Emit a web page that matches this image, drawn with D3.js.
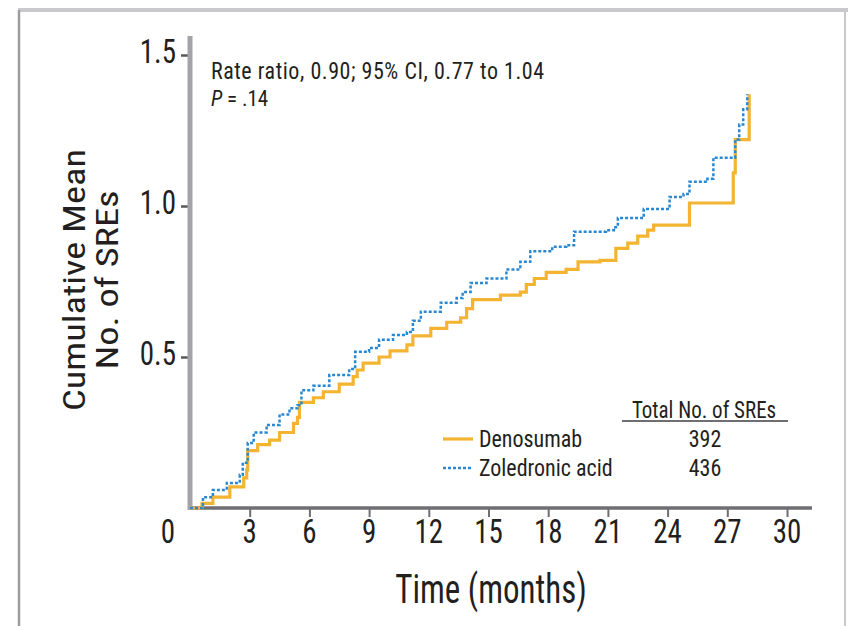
<!DOCTYPE html>
<html>
<head>
<meta charset="utf-8">
<script src="https://cdn.jsdelivr.net/npm/d3@7"></script>
<style>
  body { margin: 0; background: #fff; }
  svg text { font-family: "Liberation Sans Narrow", "Arial Narrow", "Roboto Condensed", sans-serif; fill: #231f20; }
</style>
</head>
<body>
<div id="chart"></div>
<script>
var width = 848,
	height = 626;

// data (months, cumulative mean)
var denoTime = [0, 0.6, 1.15, 2.0, 2.7, 2.85, 2.9, 3.4, 4.0, 4.5, 5.2, 5.4, 5.5, 6.2, 6.7, 7.5, 8.2, 8.4, 8.7, 9.5, 10.05, 10.9, 11.2, 12.1, 12.9, 13.6, 13.9, 14.2, 15.6, 16.6, 16.9, 17.3, 17.9, 18.9, 19.5, 20.6, 21.4, 22.0, 22.5, 23.0, 23.3, 25.1, 27.3, 27.4, 28.1];
var denoValue = [0, 0.015, 0.036, 0.07, 0.1, 0.126, 0.19, 0.21, 0.225, 0.25, 0.28, 0.30, 0.35, 0.365, 0.385, 0.41, 0.435, 0.457, 0.48, 0.50, 0.52, 0.54, 0.57, 0.595, 0.615, 0.63, 0.66, 0.69, 0.705, 0.715, 0.74, 0.76, 0.78, 0.79, 0.815, 0.82, 0.86, 0.877, 0.90, 0.92, 0.937, 1.01, 1.11, 1.22, 1.37];

var zolTime = [0, 0.65, 1.15, 1.85, 2.5, 2.65, 2.9, 3.2, 3.85, 4.5, 5.0, 5.4, 5.6, 6.2, 7.0, 8.0, 8.3, 9.0, 9.5, 10.2, 10.9, 11.2, 11.6, 12.6, 13.4, 13.7, 14.1, 14.9, 15.9, 16.6, 17.1, 18.2, 18.9, 19.3, 20.9, 21.3, 21.5, 22.8, 24.1, 24.8, 25.1, 26.0, 26.3, 27.2, 27.4, 27.6, 27.8, 28.0];
var zolValue = [0, 0.036, 0.06, 0.083, 0.11, 0.15, 0.215, 0.25, 0.275, 0.31, 0.33, 0.34, 0.39, 0.405, 0.44, 0.46, 0.517, 0.53, 0.557, 0.573, 0.583, 0.62, 0.65, 0.68, 0.695, 0.715, 0.745, 0.76, 0.79, 0.815, 0.85, 0.865, 0.87, 0.915, 0.92, 0.93, 0.96, 0.99, 1.03, 1.04, 1.08, 1.09, 1.16, 1.16, 1.22, 1.27, 1.32, 1.37];

var xTicks = [0, 3, 6, 9, 12, 15, 18, 21, 24, 27, 30];
var yTicks = [0.5, 1.0, 1.5];
var seriesNames = ["Denosumab", "Zoledronic acid"];
var seriesTotals = [392, 436];
var seriesColors = ["#f3b431", "#2a88d2"];

var svg = d3.select("#chart")
	.append("svg")
	.attr("width", width)
	.attr("height", height);

// the source figure is stretched up and down, so text is drawn tall
function tallText(parent, x, y, size, sy, anchor) {
	return parent.append("g")
		.attr("transform", "translate(" + x + "," + y + ") scale(1," + sy + ")")
		.append("text")
		.attr("text-anchor", anchor || "start")
		.style("font-size", size + "px");
}

// frame round the figure
svg.append("line").attr("x1", 18).attr("x2", 848).attr("y1", 10).attr("y2", 10)
	.attr("stroke", "#c9c9cb").attr("stroke-width", 4);
svg.append("line").attr("x1", 19).attr("x2", 19).attr("y1", 10).attr("y2", height)
	.attr("stroke", "#9d9da1").attr("stroke-width", 2.5);
svg.append("line").attr("x1", 845).attr("x2", 845).attr("y1", 10).attr("y2", height)
	.attr("stroke", "#c9c9cb").attr("stroke-width", 2);

var x = d3.scaleLinear().domain([0, 30]).range([190, 787]);
var y = d3.scaleLinear().domain([0, 1.5]).range([508, 55]);

// x axis
var gx = svg.append("g").attr("transform", "translate(0,508)");
gx.call(d3.axisBottom(x).tickValues(xTicks).tickSize(9).tickFormat(""));
gx.select(".domain").remove();
gx.append("line").attr("x1", 188).attr("x2", 812).attr("y1", 0).attr("y2", 0)
	.attr("stroke", "#6e6e73").attr("stroke-width", 3.5);
gx.selectAll(".tick line").attr("stroke", "#6e6e73").attr("stroke-width", 2);
gx.selectAll(".tick").filter(function(d){ return d === 0; }).select("line").remove();
xTicks.forEach(function(d){
	tallText(svg, x(d) - (d === 0 ? 22 : 0), 543, 29, 1.15, "middle").text(d);
});

// y axis
var gy = svg.append("g").attr("transform", "translate(190,0)");
gy.call(d3.axisLeft(y).tickValues(yTicks).tickSize(9).tickFormat(""));
gy.select(".domain").remove();
gy.append("line").attr("x1", 0).attr("x2", 0).attr("y1", 510).attr("y2", 36)
	.attr("stroke", "#a4a4a8").attr("stroke-width", 5);
gy.selectAll(".tick line").attr("stroke", "#58585c").attr("stroke-width", 2.5);
yTicks.forEach(function(d){
	tallText(svg, 176, y(d) + 8, 29, 1.15, "end").text(d3.format(".1f")(d));
});

// axis titles
tallText(svg, 491, 603, 33, 1.26, "middle").text("Time (months)");

var yTitle = svg.append("g")
	.attr("transform", "translate(0,280) scale(1,1.2) rotate(-90)")
	.append("text")
	.attr("text-anchor", "middle")
	.style("font-size", "32px");
yTitle.append("tspan").attr("x", 0).attr("y", 85).text("Cumulative Mean");
yTitle.append("tspan").attr("x", 0).attr("y", 118).text("No. of SREs");

// lines
var line = d3.line()
	.x(function(d){ return x(d[0]); })
	.y(function(d){ return y(d[1]); })
	.curve(d3.curveStepAfter);

var deno = d3.zip(denoTime, denoValue);
var zol = d3.zip(zolTime, zolValue);

svg.append("path")
	.datum(deno)
	.attr("fill", "none")
	.attr("stroke", seriesColors[0])
	.attr("stroke-width", 3.2)
	.attr("d", line);

svg.append("path")
	.datum(zol)
	.attr("fill", "none")
	.attr("stroke", seriesColors[1])
	.attr("stroke-width", 2.5)
	.attr("stroke-dasharray", "3,2")
	.attr("d", line);

// annotation
tallText(svg, 211, 79, 22, 1.1).style("letter-spacing", "0.55px")
	.text("Rate ratio, 0.90; 95% CI, 0.77 to 1.04");
var pText = tallText(svg, 211, 106, 21, 1.05);
pText.append("tspan").style("font-style", "italic").text("P");
pText.append("tspan").text(" = .14");

// legend
tallText(svg, 704, 418, 21, 1.1, "middle").text("Total No. of SREs");
svg.append("line")
	.attr("x1", 622).attr("x2", 788).attr("y1", 421).attr("y2", 421)
	.attr("stroke", "#6e6e73").attr("stroke-width", 2);

seriesNames.forEach(function(d, i){
	var ly = 439 + i * 29;
	svg.append("line")
		.attr("x1", 443).attr("x2", 473).attr("y1", ly).attr("y2", ly)
		.attr("stroke", seriesColors[i])
		.attr("stroke-width", i === 0 ? 3.2 : 2.5)
		.attr("stroke-dasharray", i === 0 ? null : "3,2");
	tallText(svg, 479, ly + 8, 22, 1.1).text(d);
	tallText(svg, 705, ly + 8, 22, 1.1, "middle").text(seriesTotals[i]);
});
</script>
</body>
</html>
